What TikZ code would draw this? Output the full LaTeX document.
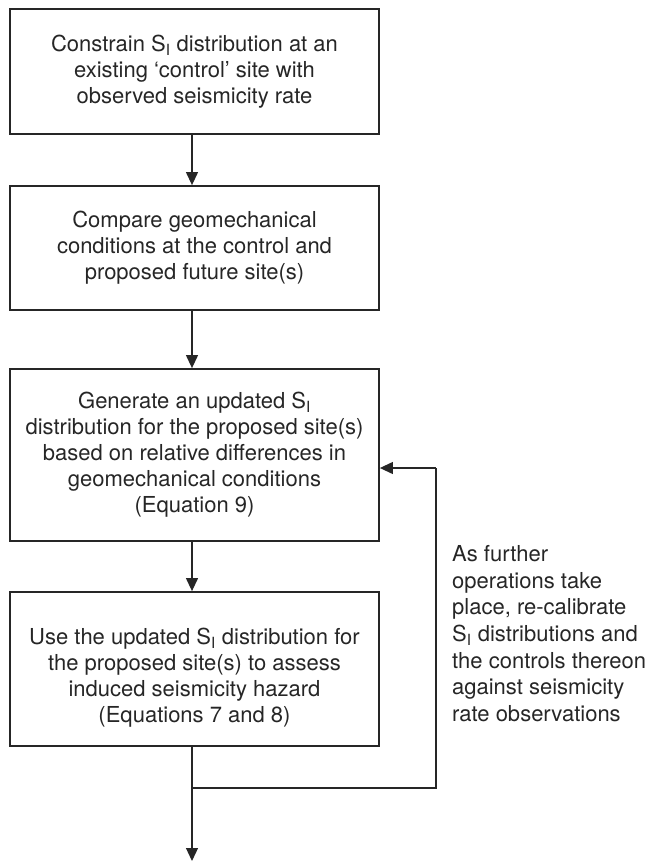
\documentclass[tikz,border=0pt]{standalone}
\usepackage{fontspec}
\setmainfont{TeX Gyre Heros}
\usetikzlibrary{arrows.meta,calc}
\tikzset{
  box/.style={draw=black!85, line width=1.8pt, rectangle, minimum width=369pt, align=center, inner sep=0pt,
    font=\fontsize{22pt}{26pt}\selectfont, text=black!85},
  conn/.style={draw=black!85, line width=1.2pt, -{Triangle[width=12pt,length=13pt]}},
  plain/.style={draw=black!85, line width=1.2pt},
  note/.style={align=left, anchor=north west, inner sep=0pt, font=\fontsize{22pt}{26.7pt}\selectfont, text=black!85}
}
\newcommand{\SI}{S\textsubscript{I}}
\begin{document}
\begin{tikzpicture}[x=1pt,y=1pt]
\useasboundingbox (0,0) rectangle (653,-862);
\node[box, minimum height=125pt] (b1) at (194.5,-71.5) {Constrain \SI{} distribution at an\\existing ‘control’ site with\\observed seismicity rate};
\node[box, minimum height=124pt] (b2) at (194.5,-248) {Compare geomechanical\\conditions at the control and\\proposed future site(s)};
\node[box, minimum height=172pt] (b3) at (194.5,-455) {Generate an updated \SI\\distribution for the proposed site(s)\\based on relative differences in\\geomechanical conditions\\(Equation 9)};
\node[box, minimum height=154pt, text depth=0pt] (b4) at (194.5,-669) {};
\node[align=center, inner sep=0pt, font=\fontsize{22pt}{26pt}\selectfont, text=black!85] (t4) at (194.5,-678) {Use the updated \SI{} distribution for\\the proposed site(s) to assess\\induced seismicity hazard\\(Equations 7 and 8)};
\coordinate (j) at (192,-788);
\coordinate (c1) at (436,-788);
\coordinate (c2) at (436,-468);
\coordinate (e) at (192,-861);
\node[note] (n) at (452,-545) {As further\\operations take\\place, re-calibrate\\\SI{} distributions and\\the controls thereon\\against seismicity\\rate observations};
\draw[conn] (b1.south -| j) -- (b2.north -| j);
\draw[conn] (b2.south -| j) -- (b3.north -| j);
\draw[conn] (b3.south -| j) -- (b4.north -| j);
\draw[conn] (b4.south -| j) -- (e);
\draw[plain] (j) -- (c1) -- (c2);
\draw[conn] (c2) -- (c2 -| b3.east);
\end{tikzpicture}
\end{document}
